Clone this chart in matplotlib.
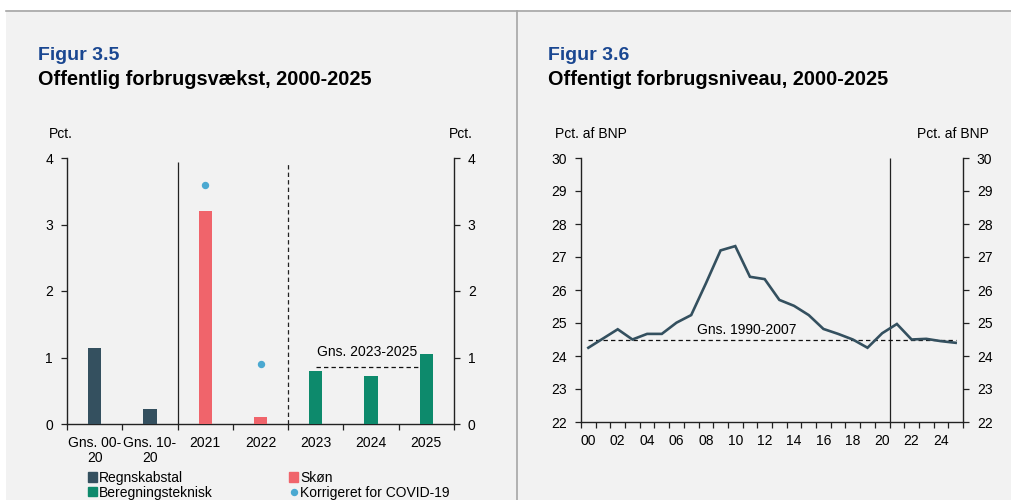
import matplotlib
matplotlib.use("Agg")
import matplotlib.pyplot as plt
from matplotlib.patches import Rectangle, Patch
from matplotlib.lines import Line2D

plt.rcParams['font.family'] = ['Liberation Sans', 'DejaVu Sans']

# Figur 3.5 - offentlig forbrugsvækst
kategorier = ['Gns. 00-\n20', 'Gns. 10-\n20', '2021', '2022', '2023', '2024', '2025']
regnskab = [1.14, 0.23, None, None, None, None, None]
skoen = [None, None, 3.2, 0.1, None, None, None]
beregning = [None, None, None, None, 0.80, 0.72, 1.06]
covid = [None, None, 3.6, 0.9, None, None, None]

# Figur 3.6 - offentligt forbrugsniveau
aar = list(range(2000, 2026))
niveau = [24.25, 24.53, 24.81, 24.50, 24.67, 24.67, 25.01, 25.24, 26.20, 27.20,
          27.33, 26.40, 26.33, 25.70, 25.52, 25.24, 24.82, 24.67, 24.50, 24.25,
          24.69, 24.97, 24.50, 24.52, 24.45, 24.40]
gns_niveau = 24.5

MOERK = '#34505F'
ROED = '#F0646B'
GROEN = '#0D8A6C'
BLAA = '#4BA9D1'
TITEL_BLAA = '#1A4791'
BAGGRUND = '#F2F2F2'

W, H = 1012, 500
fig = plt.figure(figsize=(W / 100, H / 100), dpi=100)
fig.patch.set_facecolor('white')

# grå baggrund med kant foroven og skillelinje
fig.patches.append(Rectangle((6 / W, 0), 1, (H - 10) / H, transform=fig.transFigure,
                             facecolor=BAGGRUND, edgecolor='none', zorder=-10))
fig.add_artist(Line2D([6 / W, 1], [(H - 10.5) / H] * 2, transform=fig.transFigure,
                      color='#A6A6A6', lw=1.2))
fig.add_artist(Line2D([517 / W] * 2, [0, (H - 10.5) / H], transform=fig.transFigure,
                      color='#A6A6A6', lw=1.2))


def px(x, y):
    return x / W, 1 - y / H


def style_axes(ax):
    ax.set_facecolor('none')
    ax.spines['top'].set_visible(False)
    for s in ['left', 'right', 'bottom']:
        ax.spines[s].set_color('#222222')
        ax.spines[s].set_linewidth(1.0)
    ax.tick_params(axis='y', which='both', left=True, right=True, labelleft=True,
                   labelright=True, direction='out', length=4.5, width=0.9,
                   pad=5.5, labelsize=10, color='#222222')
    ax.tick_params(axis='x', which='major', direction='out', length=4.5, width=0.9,
                   labelbottom=False, color='#222222')
    ax.tick_params(axis='x', which='minor', length=0, pad=8.5, labelsize=10)


# ---------- venstre figur ----------
ax1 = fig.add_axes([67 / W, 76 / H, 387 / W, 266 / H])
style_axes(ax1)
x = range(len(kategorier))
bw = 0.24
for serie, farve in [(regnskab, MOERK), (skoen, ROED), (beregning, GROEN)]:
    xs = [i for i, v in zip(x, serie) if v is not None]
    vs = [v for v in serie if v is not None]
    ax1.bar(xs, vs, width=bw, color=farve, zorder=3)
xs = [i for i, v in zip(x, covid) if v is not None]
vs = [v for v in covid if v is not None]
ax1.plot(xs, vs, 'o', color=BLAA, ms=4.3, zorder=4)

ax1.set_xlim(-0.5, len(kategorier) - 0.5)
ax1.set_ylim(0, 4)
ax1.set_yticks([0, 1, 2, 3, 4])
ax1.set_xticks([i - 0.5 for i in range(len(kategorier) + 1)])
ax1.set_xticks(list(x), minor=True)
ax1.set_xticklabels(kategorier, minor=True, linespacing=1.1)

ax1.vlines(1.5, 0, 3.94, color='#222222', lw=0.9)
ax1.vlines(3.5, 0, 3.94, color='#222222', lw=0.9, linestyles=(0, (3.5, 2.5)))
gns = sum(beregning[4:]) / 3
ax1.hlines(gns, 4, 6, color='#111111', lw=0.9, linestyles=(0, (3.5, 2.5)))
ax1.text(4.93, 1.08, 'Gns. 2023-2025', ha='center', va='center', fontsize=10)

fig.text(*px(60.5, 134), 'Pct.', ha='center', va='center', fontsize=10)
fig.text(*px(460.5, 134), 'Pct.', ha='center', va='center', fontsize=10)
fig.text(*px(37.5, 60.5), 'Figur 3.5', fontsize=14, fontweight='bold',
         color=TITEL_BLAA, va='baseline')
fig.text(*px(37.5, 85), 'Offentlig forbrugsvækst, 2000-2025', fontsize=14.3,
         fontweight='bold', va='baseline')

handles = [Patch(color=MOERK), Patch(color=GROEN), Patch(color=ROED),
           Line2D([], [], marker='o', ls='none', color=BLAA, ms=4.3)]
labels = ['Regnskabstal', 'Beregningsteknisk', 'Skøn', 'Korrigeret for COVID-19']
fig.legend(handles, labels, ncol=2, loc='upper left', bbox_to_anchor=px(88, 471),
           frameon=False, fontsize=10, handlelength=0.65, handleheight=0.65,
           handletextpad=0.15, labelspacing=0.05, columnspacing=5.5,
           borderpad=0, borderaxespad=0)

# ---------- højre figur ----------
ax2 = fig.add_axes([581 / W, 78 / H, 382 / W, 264 / H])
style_axes(ax2)
idx = [a - 2000 for a in aar]
ax2.plot(idx, niveau, color=MOERK, lw=1.9, zorder=3, solid_joinstyle='miter')
ax2.set_xlim(-0.5, len(aar) - 0.5)
ax2.set_ylim(22, 30)
ax2.set_yticks(range(22, 31))
ax2.set_xticks([i - 0.5 for i in range(len(aar) + 1)])
ax2.set_xticks(idx[::2], minor=True)
ax2.set_xticklabels([f'{a % 100:02d}' for a in aar[::2]], minor=True)
ax2.vlines(20.5, 22, 30, color='#222222', lw=0.9)
ax2.hlines(gns_niveau, 0, 25, color='#111111', lw=0.9, linestyles=(0, (3.5, 2.5)))
ax2.text(10.8, 24.79, 'Gns. 1990-2007', ha='center', va='center', fontsize=10)

fig.text(*px(590.5, 134), 'Pct. af BNP', ha='center', va='center', fontsize=10)
fig.text(*px(953, 134), 'Pct. af BNP', ha='center', va='center', fontsize=10)
fig.text(*px(548.5, 60.5), 'Figur 3.6', fontsize=14, fontweight='bold',
         color=TITEL_BLAA, va='baseline')
fig.text(*px(548.5, 85), 'Offentigt forbrugsniveau, 2000-2025', fontsize=14.3,
         fontweight='bold', va='baseline')

fig.savefig('out.png', dpi=100, facecolor=fig.get_facecolor())
